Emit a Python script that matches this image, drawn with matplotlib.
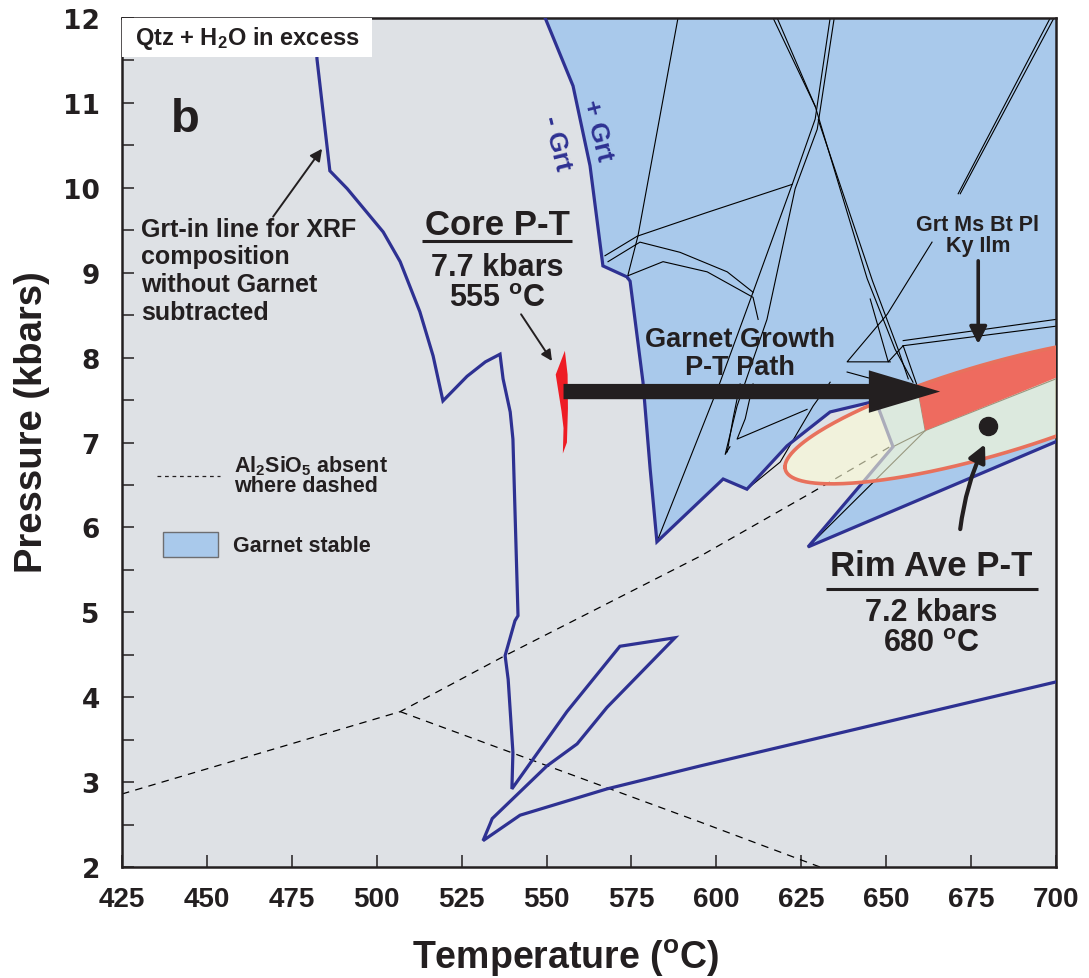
import numpy as np
import matplotlib
matplotlib.use("Agg")
import matplotlib.pyplot as plt
from matplotlib.patches import Polygon, Rectangle
from matplotlib.ticker import MultipleLocator

# ---- phase diagram data (T in deg C, P in kbar) ----
# garnet-in boundary enclosing the garnet stability field
grt_T = [549.6, 557.8, 562.8, 566.6, 573.7, 574.6, 578.4, 580.5, 582.5, 602.0, 609.0,
         620.8, 633.5, 646.1, 647.3, 652.0, 627.0, 700.0]
grt_P = [12.0, 11.20, 10.26, 9.08, 8.95, 8.90, 7.71, 6.69, 5.83, 6.57, 6.45,
         6.96, 7.36, 7.48, 7.45, 6.95, 5.77, 7.01]

# garnet-in line for the bulk XRF composition
xrf_T = [482.1, 482.4, 486.2, 491.3, 501.9, 506.9, 512.7, 516.6, 519.5, 526.6, 532.0,
         536.3, 537.2, 539.3, 540.1, 541.6, 540.7, 537.8, 538.7, 540.1, 539.8, 556.0,
         571.6, 587.8, 567.8, 559.0, 550.1, 534.0, 533.4, 531.3, 542.2, 567.8, 595.2, 700.0]
xrf_P = [12.0, 11.52, 10.20, 9.99, 9.48, 9.13, 8.54, 8.02, 7.49, 7.78, 7.95,
         8.04, 7.75, 7.36, 7.04, 4.96, 4.90, 4.49, 4.21, 3.35, 2.92, 3.83,
         4.60, 4.70, 3.88, 3.45, 3.19, 2.57, 2.51, 2.31, 2.61, 2.92, 3.19, 4.18]

# other reaction lines inside the garnet field
reactions = [
    ([588.7, 576.9, 573.7], [12.0, 9.43, 8.93]),
    ([616.7, 629.1, 644.4, 652.6, 657.9], [12.0, 10.96, 8.93, 8.10, 7.71]),
    ([617.9, 629.1], [12.0, 10.96]),
    ([630.0, 646.0, 653.5, 656.5], [10.80, 8.90, 8.10, 7.75]),
    ([633.5, 629.1, 622.6, 610.8, 601.1, 582.5], [12.0, 10.81, 10.07, 8.77, 7.71, 5.83]),
    ([634.7, 629.7, 623.2, 614.9, 606.1, 602.6, 604.0], [12.0, 10.69, 9.99, 8.45, 7.43, 6.86, 6.95]),
    ([607.0, 604.9, 603.2], [7.69, 7.28, 6.89]),
    ([610.8, 608.5, 606.1, 626.7], [7.69, 7.28, 7.04, 7.39]),
    ([609.0, 618.8, 628.5, 633.5], [6.45, 6.77, 7.43, 7.71]),
    ([567.2, 576.7, 597.3, 622.3], [9.20, 9.43, 9.71, 10.04]),
    ([568.1, 577.5, 589.3, 603.2, 610.8], [9.13, 9.36, 9.24, 9.01, 8.77]),
    ([573.7, 584.3, 597.3, 610.8, 612.3], [8.96, 9.13, 9.01, 8.71, 8.45]),
    ([663.5, 650.3, 638.5, 651.2], [9.36, 8.51, 7.95, 7.95]),
    ([638.5, 645.8], [7.83, 7.75]),
    ([645.3, 650.6, 655.0], [8.69, 7.95, 8.14]),
    ([655.0, 700.0], [8.14, 8.37]),
    ([655.0, 700.0], [8.20, 8.45]),
    ([655.0, 659.1, 661.5], [8.14, 7.67, 7.14]),
    ([661.5, 700.0], [7.14, 7.75]),
    ([661.5, 652.0], [7.14, 6.95]),
    ([661.5, 627.0], [7.14, 5.77]),
    ([698.3, 671.2], [12.0, 9.93]),
    ([699.4, 671.8], [12.0, 9.93]),
]

# Al2SiO5-absent (dashed) boundaries
al_T1 = [425.0, 506.9, 537.8, 595.2, 628.5, 651.1]
al_P1 = [2.86, 3.83, 4.49, 5.66, 6.42, 6.95]
al_T2 = [506.9, 595.2, 630.5]
al_P2 = [3.83, 2.53, 2.0]

# Grt Ms Bt Pl Ky Ilm field (shaded where it overlaps the rim ellipse)
field_T = [655.0, 659.1, 661.5, 700.5, 700.5]
field_P = [8.14, 7.67, 7.14, 7.77, 8.40]

# rim P-T uncertainty ellipse: centre and conjugate semi-diameters
ell_center = (680.6, 7.383)
ell_u = (-60.4, -0.671)
ell_v = (0.0, 0.554)

# core P-T estimate outline
core_T = [555.4, 552.7, 554.4, 555.0, 554.8, 556.0, 556.3, 556.2, 555.4]
core_P = [8.08, 7.80, 7.37, 7.17, 6.87, 7.00, 7.40, 7.80, 8.08]

core_pt = (555, 7.7)
rim_pt = (680, 7.2)
path_end_T = 665.9
path_P = 7.6

GRAY = "#DEE1E5"
BLUE = "#A9C9EB"
NAVY = "#2E3192"
INK = "#231F20"
CORAL = "#E8715C"

plt.rcParams["font.family"] = ["Liberation Sans", "DejaVu Sans"]
plt.rcParams["mathtext.fontset"] = "custom"
plt.rcParams["mathtext.rm"] = "Liberation Sans:bold"
plt.rcParams["mathtext.bf"] = "Liberation Sans:bold"
plt.rcParams["mathtext.it"] = "Liberation Sans:bold"

fig = plt.figure(figsize=(10.89, 9.79), dpi=100)
ax = fig.add_axes([122 / 1089, 1 - 868 / 979, 934 / 1089, 849 / 979])
ax.set_xlim(425, 700)
ax.set_ylim(2, 12)
ax.set_facecolor(GRAY)

# garnet stability field
ax.add_patch(Polygon(np.column_stack([grt_T + [700.5, 700.5], grt_P + [7.01, 12.0]]),
                     closed=True, fc=BLUE, ec="none", zorder=1))

for t, p in reactions:
    ax.plot(t, p, color="black", lw=0.8, zorder=2)

ax.plot(al_T1, al_P1, color="black", lw=0.9, ls=(0, (6, 5)), zorder=2)
ax.plot(al_T2, al_P2, color="black", lw=0.9, ls=(0, (6, 5)), zorder=2)

ax.plot(grt_T, grt_P, color=NAVY, lw=2.3, zorder=3, solid_joinstyle="miter")
ax.plot(xrf_T, xrf_P, color=NAVY, lw=2.3, zorder=3, solid_joinstyle="miter")

# rim ellipse
tt = np.linspace(0, 2 * np.pi, 400)
ex = ell_center[0] + ell_u[0] * np.cos(tt) + ell_v[0] * np.sin(tt)
ey = ell_center[1] + ell_u[1] * np.cos(tt) + ell_v[1] * np.sin(tt)
ell = Polygon(np.column_stack([ex, ey]), closed=True, fc=(1.0, 1.0, 0.84), alpha=0.6,
              ec="none", zorder=4)
ax.add_patch(ell)
red = Polygon(np.column_stack([field_T, field_P]), closed=True, fc="#EE6B5F",
              ec="none", zorder=5)
ax.add_patch(red)
red.set_clip_path(ell)
ax.plot(ex, ey, color=CORAL, lw=2.6, zorder=6)

# core estimate
ax.add_patch(Polygon(np.column_stack([core_T, core_P]), closed=True, fc="#EE1C24",
                     ec="none", zorder=6))

# garnet growth path
ax.arrow(core_pt[0], path_P, path_end_T - core_pt[0], 0, width=0.18, head_width=0.5,
         head_length=21, length_includes_head=True, fc=INK, ec="none", zorder=7)
ax.plot(*rim_pt, "o", color=INK, ms=13, zorder=8)

arrow_kw = dict(arrowstyle="-|>", color=INK, shrinkA=0, shrinkB=0)

# white header box
ax.add_patch(Rectangle((425, 11.54), 73.6, 0.46, fc="white", ec="none", zorder=9))
ax.text(428.8, 11.77, r"Qtz + H$_{2}$O in excess", fontsize=17, fontweight="bold",
        color=INK, va="center", ha="left", zorder=10)

ax.text(443.6, 10.81, "b", fontsize=34, fontweight="bold", color=INK,
        ha="center", va="center")

ax.text(430.6, 9.66, "Grt-in line for XRF\ncomposition\nwithout Garnet\nsubtracted",
        fontsize=18, fontweight="bold", color=INK, ha="left", va="top", linespacing=1.2)
ax.annotate("", xy=(483.9, 10.46), xytext=(469.5, 9.66), zorder=8,
            arrowprops=dict(lw=1.4, mutation_scale=18, **arrow_kw))

# core label
ax.text(535.4, 9.57, "Core P-T", fontsize=25, fontweight="bold", color=INK,
        ha="center", va="center")
ax.plot([513.3, 557.5], [9.37, 9.37], color=INK, lw=2.2, solid_capstyle="butt")
ax.text(535.4, 9.07, "7.7 kbars", fontsize=22, fontweight="bold", color=INK,
        ha="center", va="center")
ax.text(535.4, 8.70, r"555 $^{\mathbf{o}}$C", fontsize=22, fontweight="bold", color=INK,
        ha="center", va="center")
ax.annotate("", xy=(551.6, 7.96), xytext=(542.5, 8.51), zorder=8,
            arrowprops=dict(lw=1.4, mutation_scale=16, **arrow_kw))

ax.text(564.9, 10.69, "+ Grt", fontsize=19, fontweight="bold", color=NAVY,
        ha="center", va="center", rotation=-76)
ax.text(552.8, 10.54, "- Grt", fontsize=19, fontweight="bold", color=NAVY,
        ha="center", va="center", rotation=-76)

ax.text(607, 8.05, "Garnet Growth\nP-T Path", fontsize=19.5, fontweight="bold",
        color=INK, ha="center", va="center", linespacing=1.1)

ax.text(677, 9.44, "Grt Ms Bt Pl\nKy Ilm", fontsize=15.5, fontweight="bold", color=INK,
        ha="center", va="center", linespacing=1.0)
ax.annotate("", xy=(677.1, 8.16), xytext=(677.1, 9.14), zorder=8,
            arrowprops=dict(lw=2.6, mutation_scale=26, **arrow_kw))

# rim label
ax.text(663.3, 5.55, "Rim Ave P-T", fontsize=25, fontweight="bold", color=INK,
        ha="center", va="center")
ax.plot([632.3, 694.7], [5.27, 5.27], color=INK, lw=2.2, solid_capstyle="butt")
ax.text(663.3, 5.0, "7.2 kbars", fontsize=22, fontweight="bold", color=INK,
        ha="center", va="center")
ax.text(663.3, 4.64, r"680 $^{\mathbf{o}}$C", fontsize=22, fontweight="bold", color=INK,
        ha="center", va="center")
ax.annotate("", xy=(679.1, 6.98), xytext=(671.8, 5.98), zorder=8,
            arrowprops=dict(lw=3.0, mutation_scale=26,
                            connectionstyle="arc3,rad=-0.08", **arrow_kw))

# key
ax.plot([435.3, 453.9], [6.6, 6.6], color=INK, lw=0.9, ls=(0, (3, 3)))
ax.text(458.0, 6.62, r"Al$_{2}$SiO$_{5}$ absent" + "\nwhere dashed", fontsize=15.5,
        fontweight="bold", color=INK, ha="left", va="center", linespacing=0.85)
ax.add_patch(Rectangle((437.1, 5.65), 16.2, 0.3, fc=BLUE, ec="#6D6E71", lw=1.0))
ax.text(457.7, 5.79, "Garnet stable", fontsize=15.5, fontweight="bold", color=INK,
        ha="left", va="center")

# axes styling
ax.xaxis.set_major_locator(MultipleLocator(25))
ax.yaxis.set_major_locator(MultipleLocator(1))
ax.yaxis.set_minor_locator(MultipleLocator(0.5))
ax.tick_params(which="both", direction="in", length=8.5, width=1.1, top=False,
               right=False, color=INK)
ax.tick_params(axis="y", pad=16)
ax.tick_params(axis="x", pad=14)
for s in ax.spines.values():
    s.set_linewidth(1.8)
    s.set_color(INK)

for lab in ax.get_yticklabels():
    lab.set_fontfamily("DejaVu Sans")
    lab.set_fontweight("bold")
    lab.set_fontsize(19)
    lab.set_color(INK)
for lab in ax.get_xticklabels():
    lab.set_fontweight("bold")
    lab.set_fontsize(20)
    lab.set_color(INK)

ax.set_xlabel(r"Temperature ($^{\mathbf{o}}$C)", fontsize=27, fontweight="bold", color=INK)
ax.set_ylabel("Pressure (kbars)", fontsize=27.5, fontweight="bold", color=INK)
ax.xaxis.set_label_coords(0.475, -0.082)
ax.yaxis.set_label_coords(-0.077, 0.525)

fig.savefig("out.png", dpi=100)
